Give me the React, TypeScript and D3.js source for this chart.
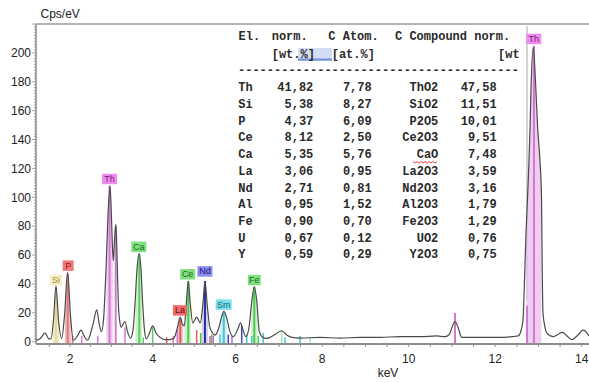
import React from 'react';
import * as d3 from 'd3';

// ---- spectrum (keV, counts per eV) ----
const specKeV = [1.179, 1.276, 1.397, 1.493, 1.541, 1.602, 1.662, 1.722, 1.8, 1.867, 1.944, 2.012, 2.08, 2.181, 2.266, 2.338, 2.422, 2.555, 2.645, 2.707, 2.76, 2.809, 2.869, 2.925, 2.966, 2.997, 3.019, 3.045, 3.074, 3.11, 3.139, 3.166, 3.202, 3.238, 3.279, 3.328, 3.388, 3.46, 3.521, 3.569, 3.617, 3.67, 3.714, 3.755, 3.798, 3.842, 3.919, 3.996, 4.076, 4.173, 4.293, 4.414, 4.511, 4.595, 4.662, 4.715, 4.759, 4.807, 4.855, 4.904, 4.964, 5.058, 5.145, 5.211, 5.259, 5.308, 5.368, 5.42, 5.5, 5.597, 5.657, 5.713, 5.778, 5.85, 5.942, 6.053, 6.111, 6.169, 6.238, 6.308, 6.372, 6.43, 6.488, 6.546, 6.608, 6.717, 6.909, 7.064, 7.186, 7.302, 7.487, 7.949, 8.411, 8.874, 9.336, 9.799, 10.261, 10.647, 10.839, 10.939, 11.001, 11.07, 11.14, 11.225, 11.649, 12.111, 12.389, 12.534, 12.59, 12.643, 12.671, 12.712, 12.765, 12.805, 12.828, 12.881, 12.932, 12.978, 13.036, 13.071, 13.087, 13.105, 13.151, 13.197, 13.343, 13.452, 13.551, 13.66, 13.769, 13.891, 14.037, 14.169];
const specCps = [1, 2, 6, 2, 2, 15, 38.6, 15, 2.3, 18, 48, 18, 1, 4, 8, 4, 1, 12, 22, 12, 7, 15, 50, 92, 108, 90, 70, 56, 70, 81.5, 55, 27, 14, 10, 12, 14, 7, 2.5, 8, 26, 50, 61, 50, 26, 8, 2, 6, 11, 6, 3, 1.5, 1.5, 2.5, 10, 17, 12, 11, 26, 42, 26, 13, 17, 13, 27, 42, 27, 11, 7, 4.5, 10, 17, 21, 17, 8, 3.5, 9, 13, 8, 3.5, 10, 28, 38, 28, 7, 3.5, 2.3, 5, 7.6, 4.5, 3, 2.5, 3, 2.5, 3, 3, 3.5, 3.5, 4, 3.5, 5, 10, 14, 10, 3, 3, 3, 3.5, 4, 7, 15, 36, 75, 112, 147, 175, 204, 180, 150, 125, 100, 50, 20, 10, 6, 3.5, 5, 6.5, 4, 1.5, 4, 8, 4];

// ---- element marker lines ----
const lineKeV = [1.662, 1.944, 2.065, 2.282, 2.669, 2.955, 3.103, 3.328, 3.673, 3.769, 3.996, 4.334, 4.493, 4.59, 4.662, 4.855, 5.058, 5.155, 5.258, 5.379, 5.42, 5.459, 5.62, 5.712, 5.821, 5.91, 6.139, 6.254, 6.37, 6.43, 6.523, 6.638, 7.064, 7.14, 7.487, 7.718, 11.07, 12.735, 12.897];
const lineCps = [38, 47, 4, 4, 4, 108, 80, 10, 61, 3, 10, 3, 4, 8, 16, 42, 8, 6, 42, 4, 5, 4, 5, 20, 5, 4, 11, 5, 4, 38, 4, 6, 8, 3, 4, 3, 20, 25, 205];
const lineEl = ['Si', 'P', 'P', 'Th', 'Th', 'Th', 'Th', 'Th', 'Ca', 'Ca', 'Ca', 'La', 'Th', 'Th', 'La', 'Ce', 'La', 'Ce', 'Nd', 'Y', 'Al', 'Y', 'Sm', 'Sm', 'U', 'Y', 'U', 'Sm', 'Sm', 'Fe', 'Fe', 'Sm', 'FeB', 'Sm', 'Sm', 'SmL', 'Th', 'Th', 'Th'];

// ---- peak labels ----
const labelEl = ['Si', 'P', 'Th', 'Ca', 'La', 'Ce', 'Nd', 'Sm', 'Fe', 'Th'];
const labelKeV = [1.662, 1.955, 2.955, 3.66, 4.655, 4.84, 5.258, 5.71, 6.43, 12.893];
const labelCps = [38, 48, 108, 61, 17, 42, 44, 21, 38, 205];

// ---- axes ----
const xTickLabels = [2, 4, 6, 8, 10, 12, 14];
const yTickLabels = [0, 20, 40, 60, 80, 100, 120, 140, 160, 180, 200];

// ---- quantification table ----
const tabEl = ['Th', 'Si', 'P', 'Ce', 'Ca', 'La', 'Nd', 'Al', 'Fe', 'U', 'Y'];
const tabNorm = ['41,82', '5,38', '4,37', '8,12', '5,35', '3,06', '2,71', '0,95', '0,90', '0,67', '0,59'];
const tabAtom = ['7,78', '8,27', '6,09', '2,50', '5,76', '0,95', '0,81', '1,52', '0,70', '0,12', '0,29'];
const tabComp = ['ThO2', 'SiO2', 'P2O5', 'Ce2O3', 'CaO', 'La2O3', 'Nd2O3', 'Al2O3', 'Fe2O3', 'UO2', 'Y2O3'];
const tabCompNorm = ['47,58', '11,51', '10,01', '9,51', '7,48', '3,59', '3,16', '1,79', '1,29', '0,76', '0,75'];

const lineColors: Record<string, string> = {
  Si: '#e6da98', P: '#df7474', Th: '#d27ad2', Ca: '#5ccc5c', La: '#e05a5a', Ce: '#4cc94c',
  Nd: '#2e2e9e', Sm: '#44c4d4', Fe: '#4cc94c', FeB: '#a8e4a8', U: '#3a48b8', Y: '#a070d0',
  Al: '#b0a040', SmL: '#a8e0f0',
};
const labelStyle: Record<string, { fill: string; text: string; w: number; area: string }> = {
  Si: { fill: '#f6f0c4', text: '#9a8a40', w: 12, area: '#efe6b8' },
  P: { fill: '#f07878', text: '#8a1a1a', w: 11, area: '#eeb0b0' },
  Th: { fill: '#ee8cee', text: '#7a1a7a', w: 15, area: '#eec0ee' },
  Ca: { fill: '#80e080', text: '#1a6a1a', w: 15, area: '#bfeebf' },
  La: { fill: '#f06a6a', text: '#6a1010', w: 14, area: '#f0b8b8' },
  Ce: { fill: '#80e080', text: '#1a6a1a', w: 15, area: '#bfeebf' },
  Nd: { fill: '#8a8ef0', text: '#1a1a7a', w: 15, area: '#c4c6f2' },
  Sm: { fill: '#80e0ea', text: '#106a7a', w: 16, area: '#c0eef2' },
  Fe: { fill: '#80e080', text: '#1a6a1a', w: 13, area: '#bfeebf' },
};

export default function App() {
  const W = 589, H = 383;
  const x = d3.scaleLinear().domain([2, 6, 14]).range([70, 235.7, 581.7]);
  const y = d3.scaleLinear().domain([0, 200]).range([341.7, 52.9]);
  const axisX0 = 36, axisY = 344, topY = 24;

  const spec = d3.line<number>()
    .x((_, i) => x(specKeV[i]))
    .y((d) => y(d))
    .curve(d3.curveMonotoneX)(specCps) || '';
  const specArea = d3.area<number>()
    .x((_, i) => x(specKeV[i]))
    .y0(axisY - 1)
    .y1((d) => y(d))
    .curve(d3.curveMonotoneX)(specCps) || '';

  const minorX = d3.range(1.5, 14.51, 0.5).filter((v) => x(v) > axisX0 + 2 && x(v) < W);
  const minorY = d3.range(0, 221, 2);

  const mono = '"Liberation Mono", "Courier New", monospace';
  const sans = '"Liberation Sans", Arial, sans-serif';
  const rowY = (i: number) => 91.3 + i * 16.7;

  // wavy underline under CaO
  const caoIdx = tabComp.indexOf('CaO');
  const wy = rowY(caoIdx) + 3.5;
  let wave = `M413,${wy}`;
  for (let k = 0; k < 12; k++) wave += ` L${415 + k * 2},${wy + (k % 2 === 0 ? 1.5 : 0)}`;

  return (
    <svg width={W} height={H} style={{ position: 'absolute', left: 0, top: 0, background: '#fff' }}>
      <defs>
        {labelEl.map((e, i) => {
          const hw = labelCps[i] > 150 ? 7.5 : 3.2;
          const cx = x(labelKeV[i]);
          return (
            <clipPath key={'cp' + i} id={'cp' + i}>
              <rect x={cx - hw} y={0} width={hw * 2} height={H} />
            </clipPath>
          );
        })}
      </defs>
      <rect x={0} y={0} width={W} height={H} fill="#fff" />
      {/* frame */}
      <line x1={axisX0} x2={W} y1={topY} y2={topY} stroke="#9a9a9a" strokeWidth={1.5} />
      <line x1={axisX0} x2={axisX0} y1={topY} y2={axisY} stroke="#8a8a8a" strokeWidth={1.5} />
      {minorY.map((v) => (
        <line key={'my' + v} x1={axisX0 - (v % 20 === 0 ? 4 : 2)} x2={axisX0} y1={y(v)} y2={y(v)} stroke="#8a8a8a" strokeWidth={0.8} />
      ))}
      {yTickLabels.map((v) => (
        <text key={'yl' + v} x={31} y={y(v) + 4.3} textAnchor="end" fontFamily={sans} fontSize={12} fill="#222">{v}</text>
      ))}
      <text x={40.5} y={17.5} fontFamily={sans} fontSize={12} fill="#222">Cps/eV</text>

      {/* table */}
      <line x1={527} x2={527} y1={26} y2={300} stroke="#a8a8a8" strokeWidth={1} />
      <rect x={298} y={48} width={34} height={12} fill="#d2dcf4" />
      <rect x={298} y={58.5} width={34} height={2.2} fill="#7090dc" />
      <g fontFamily={mono} fontSize={12} fill="#2a2a2a" fontWeight="bold">
        <text x={238.5} y={40}>El.</text>
        <text x={271.7} y={40}>norm.</text>
        <text x={328.3} y={40} xmlSpace="preserve">C Atom.</text>
        <text x={395} y={40} xmlSpace="preserve">C Compound norm.</text>
        <text x={271.7} y={57.5}>[wt.%]</text>
        <text x={331.7} y={57.5}>[at.%]</text>
        <text x={498} y={57.5}>[wt</text>
        <text x={238} y={74}>{'-'.repeat(39)}</text>
        {tabEl.map((e, i) => (
          <g key={'row' + i}>
            <text x={238.3} y={rowY(i)}>{e}</text>
            <text x={313.3} y={rowY(i)} textAnchor="end">{tabNorm[i]}</text>
            <text x={371.7} y={rowY(i)} textAnchor="end">{tabAtom[i]}</text>
            <text x={438.3} y={rowY(i)} textAnchor="end">{tabComp[i]}</text>
            <text x={496.7} y={rowY(i)} textAnchor="end">{tabCompNorm[i]}</text>
          </g>
        ))}
      </g>
      <path d={wave} fill="none" stroke="#e03030" strokeWidth={0.9} />

      {/* light shading of identified peaks */}
      {labelEl.map((e, i) => (
        <path key={'pa' + i} d={specArea} fill={labelStyle[e].area} opacity={0.8} clipPath={`url(#cp${i})`} />
      ))}

      {/* element lines */}
      {lineKeV.map((k, i) => (
        <line key={'el' + i} x1={x(k)} x2={x(k)} y1={axisY - 1} y2={y(lineCps[i])}
          stroke={lineColors[lineEl[i]]} strokeWidth={lineCps[i] > 15 ? 2 : 1.5} />
      ))}

      {/* spectrum */}
      <path d={spec} fill="none" stroke="#4a4a4a" strokeWidth={1.2} strokeLinejoin="round" />

      {/* x axis */}
      <line x1={axisX0} x2={W} y1={axisY} y2={axisY} stroke="#8e8e8e" strokeWidth={2} />
      {minorX.map((v) => (
        <line key={'mx' + v} x1={x(v)} x2={x(v)} y1={axisY} y2={axisY + 3} stroke="#8e8e8e" strokeWidth={1} />
      ))}
      {xTickLabels.map((v) => (
        <text key={'xl' + v} x={x(v)} y={363} textAnchor="middle" fontFamily={sans} fontSize={12} fill="#222">{v}</text>
      ))}
      <text x={388} y={376.5} textAnchor="middle" fontFamily={sans} fontSize={12} fill="#222">keV</text>

      {/* labels */}
      {labelEl.map((e, i) => {
        const st = labelStyle[e];
        const cx = x(labelKeV[i]);
        const by = y(labelCps[i]) - 1.5;
        return (
          <g key={'lb' + i}>
            <rect x={cx - st.w / 2} y={by - 10.5} width={st.w} height={10.5} fill={st.fill} />
            <text x={cx} y={by - 2.3} textAnchor="middle" fontFamily={sans} fontSize={9} fill={st.text}>{e}</text>
          </g>
        );
      })}
    </svg>
  );
}
